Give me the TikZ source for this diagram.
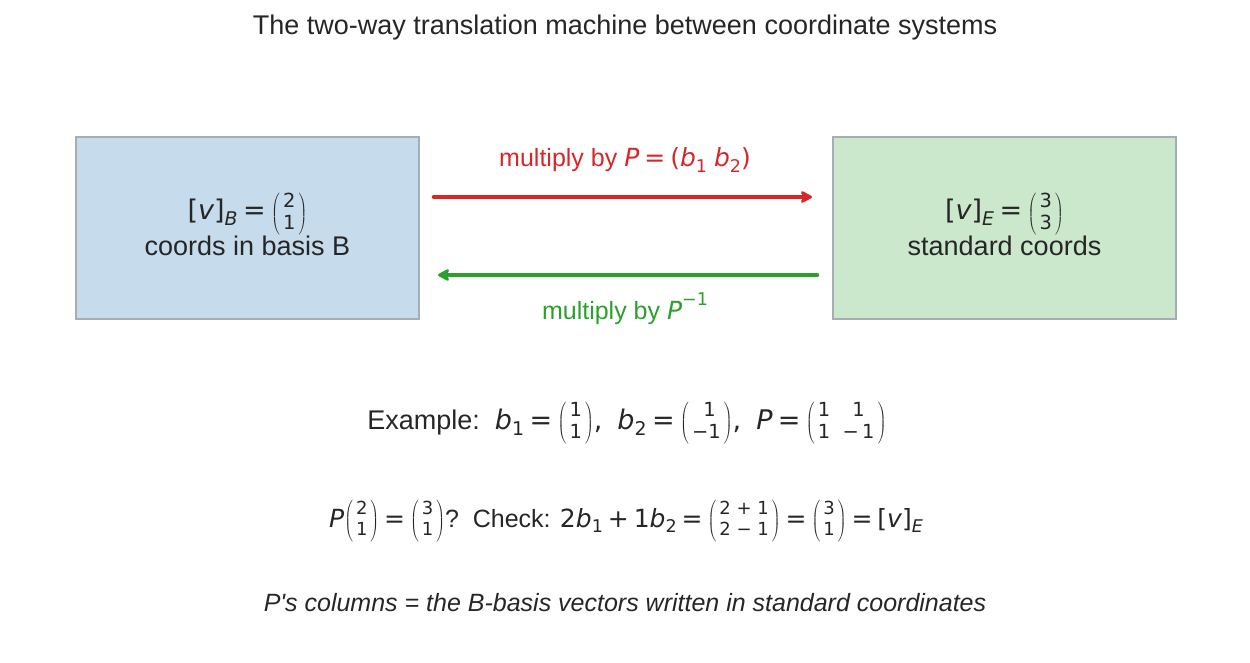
\documentclass[tikz,border=0pt]{standalone}
\usepackage{fontspec}
\setmainfont{Liberation Sans}
\newfontfamily\dv{DejaVu Sans}
\usepackage{graphicx}
\usetikzlibrary{arrows.meta}
\definecolor{txt}{HTML}{262626}
\definecolor{mred}{HTML}{D62728}
\definecolor{mgreen}{HTML}{2CA02C}
\definecolor{bfill}{HTML}{C6DBEC}
\definecolor{gfill}{HTML}{CCE8CC}
\definecolor{bord}{HTML}{A6ADB3}
\newcommand\mv[1]{{\dv\itshape #1}}
\newcommand\mr[1]{{\dv #1}}
\newcommand\lo[1]{\raisebox{-0.22em}{\scalebox{0.7}{#1}}}
\newcommand\hi[1]{\raisebox{0.55em}{\scalebox{0.7}{#1}}}
\newcommand\eq{\hspace{0.2em}{\dv=}\hspace{0.2em}}
\newcommand\pmat[2]{\ensuremath{\left(\vcenter{\hbox{\hspace{0.12em}\scalebox{0.72}{\dv\renewcommand\arraystretch{0.95}\begin{tabular}{@{}#1@{}}#2\end{tabular}}\hspace{0.12em}}}\right)}}
\newcommand\pvec[1]{\pmat{c}{#1}}
\tikzset{
  every node/.style={text=txt, inner sep=0pt},
  box/.style={draw=bord, line width=2pt, minimum width=343pt, minimum height=182pt},
  boxtxt/.style={anchor=base, font=\fontsize{27}{32}\selectfont},
  lbl/.style={font=\fontsize{25}{30}\selectfont},
  conn/.style={line width=4.6pt, line cap=round, -{Stealth[length=14pt,width=15pt,inset=4pt,round]}},
}
\begin{document}
\begin{tikzpicture}[x=1pt,y=-1pt]
\path[use as bounding box] (0,0) rectangle (1250,663);
\node[font=\fontsize{27}{32}\selectfont] (title) at (625,28) {The two-way translation machine between coordinate systems};
\node[box, fill=bfill] (L) at (247.5,228) {};
\node[box, fill=gfill] (R) at (1004.5,228) {};
\node[boxtxt] (Lmath) at ([yshift=8]L.center) {\mr{[}\mv{v}\mr{]}\lo{\mv{B}}\eq\pvec{2\\1}};
\node[boxtxt] (Ltext) at ([yshift=-27]L.center) {coords in basis B};
\node[boxtxt] (Rmath) at ([yshift=8]R.center) {\mr{[}\mv{v}\mr{]}\lo{\mv{E}}\eq\pvec{3\\3}};
\node[boxtxt] (Rtext) at ([yshift=-27]R.center) {standard coords};
\draw[conn, mred] ([shift={(14,-31)}]L.east) -- ([shift={(-20,-31)}]R.west);
\draw[conn, mgreen] ([shift={(-15,47)}]R.west) -- ([shift={(18,47)}]L.east);
\node[lbl, text=mred] (redlbl) at (625,160) {multiply by \mv{P}\eq\mr{(}\mv{b}\lo{\mr{1}} \mv{b}\lo{\mr{2}}\mr{)}};
\node[lbl, text=mgreen] (greenlbl) at (625,309) {multiply by \mv{P}\hi{\mr{−1}}};
\node[font=\fontsize{27}{32}\selectfont] (ex) at (627,423) {Example:\ \ \mv{b}\lo{\mr{1}}\eq\pvec{1\\1}\mr{,}\ \ \mv{b}\lo{\mr{2}}\eq\pvec{\ 1\\−1}\mr{,}\ \ \mv{P}\eq\pmat{c@{\ \ }c}{1&1\\1&−\,1}};
\node[font=\fontsize{25}{30}\selectfont] (chk) at (626,521) {\mv{P}\pvec{2\\1}\eq\pvec{3\\1}?\ \ Check: \mr{2}\mv{b}\lo{\mr{1}}\hspace{0.2em}\mr{+}\hspace{0.2em}\mr{1}\mv{b}\lo{\mr{2}}\eq\pvec{2 + 1\\2 − 1}\eq\pvec{3\\1}\eq\mr{[}\mv{v}\mr{]}\lo{\mv{E}}};
\node[font=\fontsize{25}{30}\selectfont\itshape] (note) at (625,603) {P\textquotesingle s columns = the B-basis vectors written in standard coordinates};
\end{tikzpicture}
\end{document}
